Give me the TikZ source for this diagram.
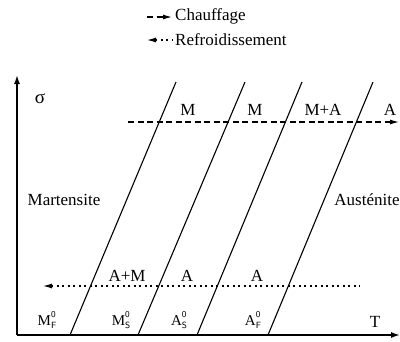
\documentclass[tikz,border=0pt]{standalone}
\usepackage{fontspec}
\setmainfont{Liberation Serif}
\usetikzlibrary{arrows.meta}
\newcommand\phsub[3]{#1\rlap{\raisebox{0.5em}{\fontsize{9}{9}\selectfont\sffamily #2}}\raisebox{-0.22em}{\fontsize{9}{9}\selectfont\sffamily #3}}
\begin{document}
\begin{tikzpicture}[x=1pt,y=-1pt,
  lbl/.style={font=\fontsize{17}{17}\selectfont, inner sep=0pt},
  sml/.style={font=\fontsize{15}{15}\selectfont, inner sep=0pt},
  axis/.style={line width=1.5pt, -{Latex[length=9pt,width=6pt]}},
  bound/.style={line width=1.1pt},
  heat/.style={line width=1.1pt, dash pattern=on 6pt off 3.5pt, -{Latex[length=9pt,width=5pt]}},
  cool/.style={line width=1.1pt, dash pattern=on 2pt off 3.5pt, {Latex[length=9pt,width=5pt]}-}]
\useasboundingbox (0,0) rectangle (400,341);
% axes
\coordinate (o) at (17,335);
\coordinate (ytip) at (17,75);
\coordinate (xtip) at (400,335);
\draw[axis] (o) -- (ytip);
\draw[axis] (o) -- (xtip);
% boundary lines
\coordinate (b1) at (70,335);  \coordinate (t1) at (176,82);
\coordinate (b2) at (138,335); \coordinate (t2) at (245,82);
\coordinate (b3) at (197,335); \coordinate (t3) at (302,82);
\coordinate (b4) at (268,335); \coordinate (t4) at (373,82);
\draw[bound] (b1) -- (t1);
\draw[bound] (b2) -- (t2);
\draw[bound] (b3) -- (t3);
\draw[bound] (b4) -- (t4);
% heating / cooling paths
\coordinate (hs) at (128,122); \coordinate (he) at (399,122);
\draw[heat] (hs) -- (he);
\coordinate (cs) at (43,286); \coordinate (ce) at (360,286);
\draw[cool] (cs) -- (ce);
% legend
\coordinate (l1s) at (147,17); \coordinate (l1e) at (172,17);
\draw[heat] (l1s) -- (l1e);
\coordinate (l2s) at (147,40); \coordinate (l2e) at (172,40);
\draw[cool] (l2s) -- (l2e);
\node[lbl, anchor=west] (chauf) at (175,16) {Chauffage};
\node[lbl, anchor=west] (refr) at (175,40) {Refroidissement};
% labels
\node[lbl, font=\fontsize{19}{19}\selectfont] (sigma) at (40,99) {σ};
\node[lbl] (T) at (375,322) {T};
\node[lbl] (m1) at (188,110) {M};
\node[lbl] (m2) at (255,110) {M};
\node[lbl] (ma) at (323,110) {M+A};
\node[lbl] (a1) at (390,110) {A};
\node[lbl] (mart) at (64,200) {Martensite};
\node[lbl] (aust) at (367,200) {Austénite};
\node[lbl] (am) at (127,276) {A+M};
\node[lbl] (a2) at (187,276) {A};
\node[lbl] (a3) at (257,276) {A};
\node[sml] (mf) at (47,320) {\phsub{M}{0}{F}};
\node[sml] (ms) at (121,320) {\phsub{M}{0}{S}};
\node[sml] (as) at (179,320) {\phsub{A}{0}{S}};
\node[sml] (af) at (253,320) {\phsub{A}{0}{F}};
\end{tikzpicture}
\end{document}
